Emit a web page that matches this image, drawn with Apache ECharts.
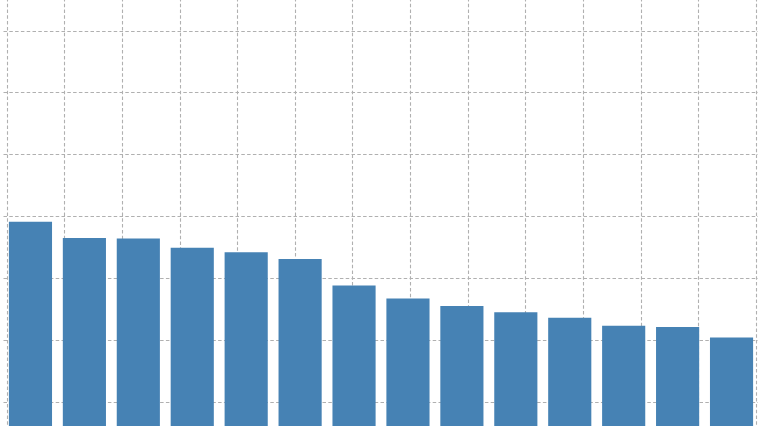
<!DOCTYPE html>
<html>
<head>
<meta charset="utf-8">
<script src="https://cdn.jsdelivr.net/npm/echarts@6/dist/echarts.min.js"></script>
<style>
html,body{margin:0;padding:0;background:#fff;}
#c{width:758px;height:426px;}
</style>
</head>
<body>
<div id="c"></div>
<script>
const categories = ['A','B','C','D','E','F','G','H','I','J','K','L','M','N'];
const values = [39.1, 36.5, 36.4, 34.9, 34.2, 33.1, 28.8, 26.7, 25.5, 24.5, 23.6, 22.3, 22.1, 20.4];
const yTicks = [0, 10, 20, 30, 40, 50, 60, 70, 80];
const vGridTicks = [0, 13];

const chart = echarts.init(document.getElementById('c'), null, {renderer: 'canvas'});
const gridLine = {show: true, lineStyle: {color: '#b0b0b0', type: [3.5, 2.3], width: 1.1}};
chart.setOption({
  animation: false,
  backgroundColor: '#fff',
  grid: [
    {left: 3.5, right: -0.5, top: -31.1, bottom: -37.7, outerBoundsMode: 'none', containLabel: false},
    {left: 7, width: 749, top: -31.1, bottom: -37.7, outerBoundsMode: 'none', containLabel: false}
  ],
  xAxis: [
    {type: 'category', gridIndex: 0, data: categories, axisLine: {show: false}, axisTick: {show: false}, axisLabel: {show: false}, splitLine: {show: false}},
    {type: 'value', gridIndex: 1, min: vGridTicks[0], max: vGridTicks[1], interval: 1, axisLine: {show: false}, axisTick: {show: false}, axisLabel: {show: false}, splitLine: gridLine}
  ],
  yAxis: [
    {type: 'value', gridIndex: 0, min: yTicks[0], max: yTicks[yTicks.length - 1], interval: 10, axisLine: {show: false}, axisTick: {show: false}, axisLabel: {show: false}, splitLine: gridLine},
    {type: 'value', gridIndex: 1, min: 0, max: 1, show: false, splitLine: {show: false}}
  ],
  series: [{
    type: 'bar',
    xAxisIndex: 0,
    yAxisIndex: 0,
    data: values,
    barCategoryGap: '20%',
    itemStyle: {color: '#4682b4'},
    z: 3
  }]
});
</script>
</body>
</html>
